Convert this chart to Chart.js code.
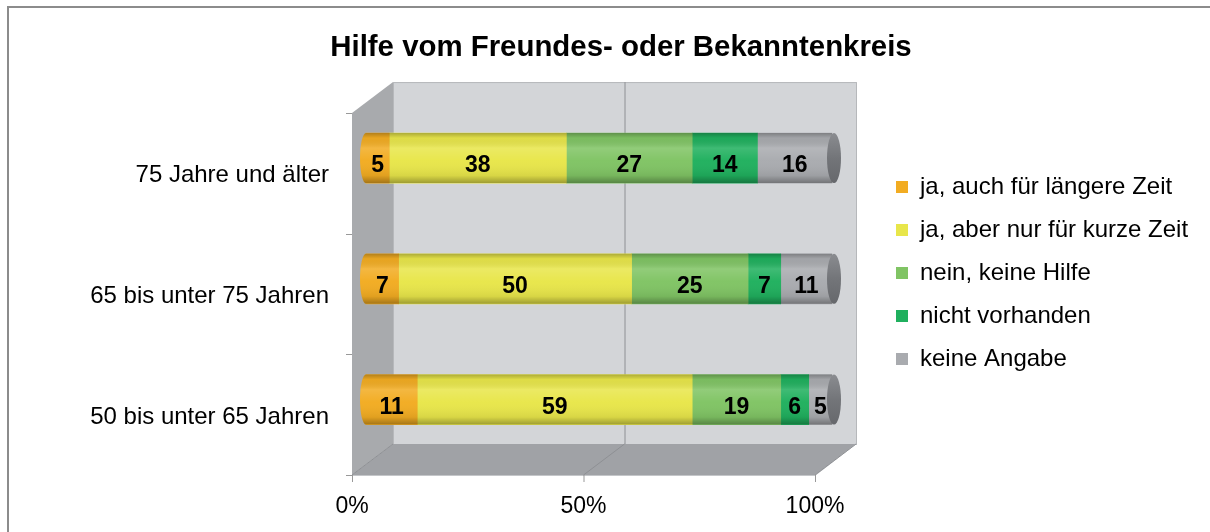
<!DOCTYPE html>
<html>
<head>
<meta charset="utf-8">
<title>Hilfe vom Freundes- oder Bekanntenkreis</title>
<script src="https://cdn.jsdelivr.net/npm/chart.js@4.4.1/dist/chart.umd.min.js"></script>
<style>
  html, body { margin: 0; padding: 0; background: #fff; }
  canvas { display: block; }
</style>
</head>
<body>
<canvas id="chart" width="1210" height="532"></canvas>
<script>
// Age groups, top to bottom
const ageGroups = ['75 Jahre und älter', '65 bis unter 75 Jahren', '50 bis unter 65 Jahren'];

// Answer categories (legend order)
const answerLabels = [
    'ja, auch für längere Zeit',
    'ja, aber nur für kurze Zeit',
    'nein, keine Hilfe',
    'nicht vorhanden',
    'keine Angabe'
];
const answerColors = ['#F2AC22', '#E8E64A', '#80C464', '#20B05E', '#A9ABAF'];

// Shares in % per age group
const longTerm = [5, 7, 11];
const shortTerm = [38, 50, 59];
const noHelp = [27, 25, 19];
const notAvailable = [14, 7, 6];
const noAnswer = [16, 11, 5];
const seriesValues = [longTerm, shortTerm, noHelp, notAvailable, noAnswer];

// Percentage axis ticks
const xTicks = [0, 50, 100];

Chart.defaults.font.family = '"Liberation Sans", Arial, sans-serif';
Chart.defaults.color = '#000';

// pseudo 3D box: back wall, side wall, floor (drawn behind everything)
const frame3d = {
    id: 'frame3d',
    beforeDraw(chart) {
        const {ctx, chartArea: a} = chart;
        const xs = chart.scales.xFront;
        const dx = 41, dy = 31;
        const fl = xs.getPixelForValue(0), fr = xs.getPixelForValue(100);
        const ft = a.top + dy, fb = a.bottom, bt = a.top, bb = a.bottom - dy;
        ctx.save();

        // outer chart frame (top and left edge visible)
        ctx.strokeStyle = '#8C8C8C';
        ctx.lineWidth = 2;
        ctx.beginPath();
        ctx.moveTo(8, chart.height);
        ctx.lineTo(8, 7);
        ctx.lineTo(chart.width, 7);
        ctx.stroke();

        // back wall
        ctx.fillStyle = '#D3D5D8';
        ctx.fillRect(fl + dx, bt, fr - fl, bb - bt);
        ctx.strokeStyle = '#B6B8BB';
        ctx.lineWidth = 1;
        ctx.strokeRect(fl + dx + 0.5, bt + 0.5, fr - fl, bb - bt);

        // left wall
        ctx.fillStyle = '#A8AAAD';
        ctx.beginPath();
        ctx.moveTo(fl, ft);
        ctx.lineTo(fl + dx, bt);
        ctx.lineTo(fl + dx, bb);
        ctx.lineTo(fl, fb);
        ctx.closePath();
        ctx.fill();

        // floor
        ctx.fillStyle = '#A0A2A6';
        ctx.beginPath();
        ctx.moveTo(fl, fb);
        ctx.lineTo(fr, fb);
        ctx.lineTo(fr + dx, bb);
        ctx.lineTo(fl + dx, bb);
        ctx.closePath();
        ctx.fill();
        ctx.strokeStyle = '#C4C6C9';
        ctx.beginPath();
        ctx.moveTo(fl, fb + 0.5);
        ctx.lineTo(fr, fb + 0.5);
        ctx.lineTo(fr + dx, bb);
        ctx.stroke();

        // grid lines + tick marks
        xTicks.forEach(v => {
            const px = xs.getPixelForValue(v);
            ctx.strokeStyle = '#8E9094';
            ctx.beginPath();
            if (v > 0 && v < 100) {
                ctx.moveTo(px + dx + 0.5, bt);
                ctx.lineTo(px + dx + 0.5, bb);
            }
            ctx.moveTo(px, fb);
            ctx.lineTo(px + dx, bb);
            ctx.stroke();
            ctx.strokeStyle = '#999';
            ctx.beginPath();
            ctx.moveTo(px + 0.5, fb);
            ctx.lineTo(px + 0.5, fb + 7);
            ctx.stroke();
        });
        for (let k = 0; k <= ageGroups.length; k++) {
            const y = ft + k * (fb - ft) / ageGroups.length;
            ctx.strokeStyle = '#999';
            ctx.beginPath();
            ctx.moveTo(fl - 6, Math.round(y) + 0.5);
            ctx.lineTo(fl, Math.round(y) + 0.5);
            ctx.stroke();
        }
        ctx.restore();
    }
};

// cylinder look + value labels on top of the stacked bars
const tubes = {
    id: 'tubes',
    afterDatasetsDraw(chart) {
        const {ctx} = chart;
        const metas = chart.getSortedVisibleDatasetMetas();
        const first = metas[0], last = metas[metas.length - 1];
        const rx = 6;
        ctx.save();
        ageGroups.forEach((_, i) => {
            const a = first.data[i].getProps(['base', 'y', 'height'], true);
            const b = last.data[i].getProps(['x'], true);
            const top = a.y - a.height / 2, h = a.height;

            // rounded left end
            ctx.beginPath();
            ctx.ellipse(a.base, a.y, rx, h / 2, 0, Math.PI / 2, Math.PI * 1.5);
            ctx.closePath();
            ctx.fillStyle = answerColors[0];
            ctx.fill();

            // shading across the tube
            const g = ctx.createLinearGradient(0, top, 0, top + h);
            g.addColorStop(0, 'rgba(0,0,0,0.25)');
            g.addColorStop(0.1, 'rgba(0,0,0,0.04)');
            g.addColorStop(0.3, 'rgba(255,255,255,0.14)');
            g.addColorStop(0.55, 'rgba(255,255,255,0.02)');
            g.addColorStop(0.85, 'rgba(0,0,0,0.07)');
            g.addColorStop(1, 'rgba(0,0,0,0.32)');
            ctx.beginPath();
            ctx.ellipse(a.base, a.y, rx, h / 2, 0, Math.PI / 2, Math.PI * 1.5);
            ctx.lineTo(b.x, top);
            ctx.lineTo(b.x, top + h);
            ctx.closePath();
            ctx.fillStyle = g;
            ctx.fill();

            // end cap
            const gc = ctx.createLinearGradient(0, top, 0, top + h);
            gc.addColorStop(0, '#8A8C90');
            gc.addColorStop(0.5, '#737579');
            gc.addColorStop(1, '#66686C');
            ctx.beginPath();
            ctx.ellipse(b.x + 2, a.y, 7, h / 2, 0, 0, Math.PI * 2);
            ctx.fillStyle = gc;
            ctx.fill();

            // value labels
            ctx.font = 'bold 23px "Liberation Sans", Arial, sans-serif';
            ctx.fillStyle = '#000';
            ctx.textAlign = 'center';
            ctx.textBaseline = 'middle';
            metas.forEach(m => {
                const p = m.data[i].getProps(['x', 'base', 'y'], true);
                const v = chart.data.datasets[m.index].data[i].x;
                ctx.fillText(String(v), (p.x + p.base) / 2, p.y + 8);
            });
        });
        ctx.restore();
    }
};

const datasets = answerLabels.map((label, k) => ({
    label: label,
    data: seriesValues[k].map((v, i) => ({x: v, y: i})),
    backgroundColor: answerColors[k],
    borderWidth: 0,
    barThickness: 50,
    xAxisID: 'x',
    yAxisID: 'y'
}));

new Chart(document.getElementById('chart'), {
    type: 'bar',
    data: { datasets: datasets },
    options: {
        indexAxis: 'y',
        responsive: false,
        animation: false,
        layout: { padding: { top: 16, bottom: 2, left: 49, right: 17 } },
        scales: {
            // bars sit a little behind the front edge (3D depth)
            x: { type: 'linear', stacked: true, display: false, min: -3.004, max: 109.657 },
            y: { type: 'linear', stacked: true, display: false, reverse: true, offset: false,
                 min: -0.6291, max: 2.6242 },
            // front axes carrying the labels
            xFront: {
                type: 'linear', position: 'bottom', min: 0, max: 113.39, offset: false,
                grid: { display: false }, border: { display: false },
                afterBuildTicks: s => { s.ticks = xTicks.map(v => ({value: v})); },
                afterFit: s => { s.height = 55; },
                ticks: { padding: 10, font: { size: 23 }, color: '#000', autoSkip: false, maxRotation: 0,
                         callback: v => v + '%' }
            },
            yLab: {
                type: 'linear', position: 'left', reverse: true, offset: false, min: -0.774, max: 2.4793,
                grid: { display: false }, border: { display: false },
                afterBuildTicks: s => { s.ticks = ageGroups.map((_, i) => ({value: i})); },
                afterFit: s => { s.width = 303; },
                ticks: { padding: 15, font: { size: 24 }, color: '#000', autoSkip: false,
                         callback: v => ageGroups[v] }
            }
        },
        plugins: {
            title: {
                display: true,
                text: 'Hilfe vom Freundes- oder Bekanntenkreis',
                color: '#000',
                font: { size: 29.4, weight: 'bold' },
                padding: { top: 14.4, bottom: 16.4 }
            },
            legend: {
                position: 'right',
                maxWidth: 316,
                labels: { boxWidth: 12, boxHeight: 12, padding: 19, font: { size: 24 }, color: '#000' }
            },
            tooltip: { enabled: false }
        }
    },
    plugins: [frame3d, tubes]
});
</script>
</body>
</html>
